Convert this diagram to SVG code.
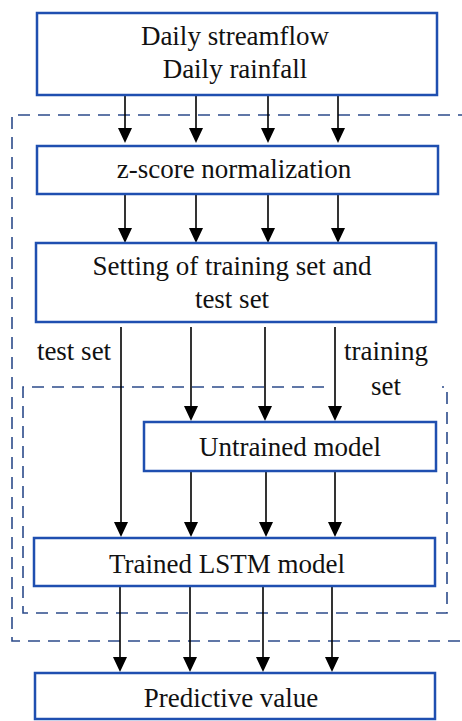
<svg xmlns="http://www.w3.org/2000/svg" width="462" height="721" viewBox="0 0 462 721">
<style>
.box{fill:#fff;stroke:#1f4fb0;stroke-width:2.5}
.dash{fill:none;stroke:#2c4b8a;stroke-width:1.6;stroke-dasharray:12 8}
.t{font-family:"Liberation Serif","Times New Roman",serif;font-size:27px;fill:#111;text-anchor:middle}
.l{stroke:#000;stroke-width:1.6;fill:none}
.ah{fill:#000}
</style>
<rect x="0" y="0" width="462" height="721" fill="#fff"/>
<g id="frames">
<path class="dash" d="M470,115 H12 V641 H470"/>
<path class="dash" d="M324,387 H23 V613 H447 V387 H442"/>
</g>
<g id="connectors">
<path class="l" d="M125,95 V130"/>
<path class="l" d="M196,95 V130"/>
<path class="l" d="M268,95 V130"/>
<path class="l" d="M338,95 V130"/>
<path class="l" d="M125,194 V230"/>
<path class="l" d="M196,194 V230"/>
<path class="l" d="M268,194 V230"/>
<path class="l" d="M338,194 V230"/>
<path class="l" d="M121,327 V524"/>
<path class="l" d="M191,327 V408"/>
<path class="l" d="M265,327 V408"/>
<path class="l" d="M335,327 V408"/>
<path class="l" d="M191,471 V524"/>
<path class="l" d="M266,471 V524"/>
<path class="l" d="M335,471 V524"/>
<path class="l" d="M120,586 V659"/>
<path class="l" d="M190,586 V659"/>
<path class="l" d="M263,586 V659"/>
<path class="l" d="M332,586 V659"/>
<g class="ah">
<path d="M118,128 H132 L125,143 Z"/>
<path d="M189,128 H203 L196,143 Z"/>
<path d="M261,128 H275 L268,143 Z"/>
<path d="M331,128 H345 L338,143 Z"/>
<path d="M118,228 H132 L125,243 Z"/>
<path d="M189,228 H203 L196,243 Z"/>
<path d="M261,228 H275 L268,243 Z"/>
<path d="M331,228 H345 L338,243 Z"/>
<path d="M184,406 H198 L191,421 Z"/>
<path d="M258,406 H272 L265,421 Z"/>
<path d="M328,406 H342 L335,421 Z"/>
<path d="M114,522 H128 L121,537 Z"/>
<path d="M184,522 H198 L191,537 Z"/>
<path d="M259,522 H273 L266,537 Z"/>
<path d="M328,522 H342 L335,537 Z"/>
<path d="M113,657 H127 L120,672 Z"/>
<path d="M183,657 H197 L190,672 Z"/>
<path d="M256,657 H270 L263,672 Z"/>
<path d="M325,657 H339 L332,672 Z"/>
</g>
<text class="t" x="74" y="360">test set</text>
<text class="t" x="386" y="360">training</text>
<text class="t" x="386" y="395">set</text>
</g>
<g id="n1">
<rect class="box" x="37" y="13" width="400" height="82"/>
<text class="t" x="235" y="45">Daily streamflow</text>
<text class="t" x="235" y="78">Daily rainfall</text>
</g>
<g id="n2">
<rect class="box" x="37" y="146" width="401" height="48"/>
<text class="t" x="234" y="178">z-score normalization</text>
</g>
<g id="n3">
<rect class="box" x="36" y="243" width="400" height="79"/>
<text class="t" x="232" y="275">Setting of training set and</text>
<text class="t" x="232" y="308">test set</text>
</g>
<g id="n4">
<rect class="box" x="144" y="422" width="292" height="49"/>
<text class="t" x="290" y="456">Untrained model</text>
</g>
<g id="n5">
<rect class="box" x="34" y="538" width="401" height="48"/>
<text class="t" x="227" y="573">Trained LSTM model</text>
</g>
<g id="n6">
<rect class="box" x="35" y="673" width="400" height="46"/>
<text class="t" x="231" y="707">Predictive value</text>
</g>
</svg>
